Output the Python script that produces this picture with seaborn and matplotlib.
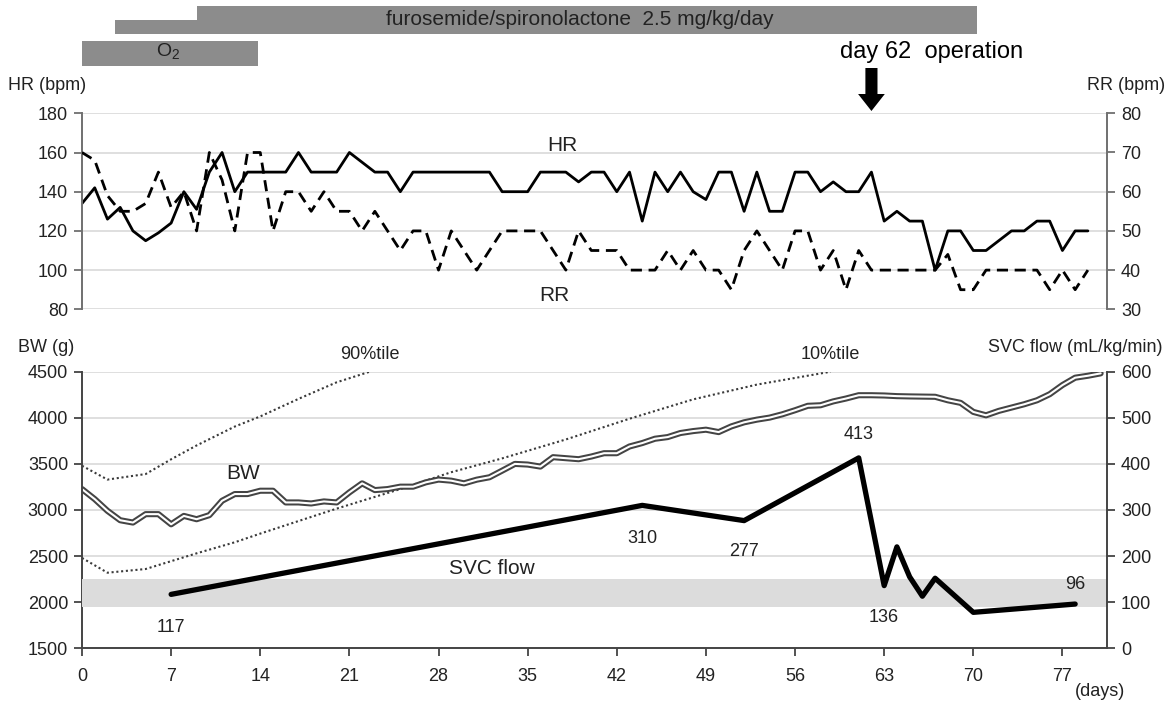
import matplotlib
matplotlib.use("Agg")
import matplotlib.pyplot as plt
from matplotlib import font_manager
from matplotlib.patches import FancyArrow
import seaborn as sns

# ---------------- data ----------------
hr_days = list(range(80))
hr = [134, 142, 126, 132, 120, 115, 119, 124, 140, 131,
      150, 160, 140, 150, 150, 150, 150, 160, 150, 150,
      150, 160, 155, 150, 150, 140, 150, 150, 150, 150,
      150, 150, 150, 140, 140, 140, 150, 150, 150, 145,
      150, 150, 140, 150, 125, 150, 140, 150, 140, 136,
      150, 150, 130, 150, 130, 130, 150, 150, 140, 145,
      140, 140, 150, 125, 130, 125, 125, 100, 120, 120,
      110, 110, 115, 120, 120, 125, 125, 110, 120, 120]
rr = [70, 68, 59, 55, 55, 57, 65, 56, 60, 50,
      70, 63, 50, 70, 70, 50, 60, 60, 55, 60,
      55, 55, 50, 55, 50, 45, 50, 50, 40, 50,
      45, 40, 45, 50, 50, 50, 50, 45, 40, 50,
      45, 45, 45, 40, 40, 40, 45, 40, 45, 40,
      40, 35, 45, 50, 45, 40, 50, 50, 40, 45,
      35, 45, 40, 40, 40, 40, 40, 40, 44, 35,
      35, 40, 40, 40, 40, 40, 35, 40, 35, 40]

bw_days = list(range(81))
bw = [3227, 3118, 2991, 2889, 2864, 2955, 2955, 2845, 2936, 2900,
      2944, 3100, 3173, 3173, 3209, 3209, 3082, 3082, 3071, 3093,
      3082, 3191, 3289, 3216, 3227, 3253, 3253, 3300, 3330, 3318,
      3289, 3329, 3355, 3427, 3500, 3493, 3471, 3573, 3562, 3551,
      3580, 3616, 3616, 3689, 3726, 3773, 3791, 3835, 3856, 3871,
      3845, 3907, 3951, 3980, 4002, 4038, 4082, 4130, 4136, 4178,
      4209, 4245, 4245, 4242, 4235, 4232, 4230, 4228, 4190, 4162,
      4064, 4027, 4075, 4111, 4147, 4190, 4256, 4355, 4435, 4456,
      4482]

p90_days = [0, 2, 5, 7, 9, 12, 14, 17, 20, 22.6]
p90 = [3480, 3330, 3390, 3550, 3700, 3905, 4015, 4205, 4385, 4500]
p10_days = [0, 2, 5, 7, 9, 12, 14, 17, 20, 22, 25, 29, 33, 38, 43, 48, 53, 58.8]
p10 = [2480, 2320, 2360, 2445, 2530, 2650, 2744, 2880, 3015, 3100,
       3227, 3410, 3560, 3765, 3990, 4200, 4360, 4500]

svc_days = [7, 44, 52, 61, 63, 64, 65, 66, 67, 70, 78]
svc = [117, 310, 277, 413, 136, 220, 155, 113, 152, 78, 96]
svc_label_days = [7, 44, 52, 61, 63, 78]
svc_labels = ["117", "310", "277", "413", "136", "96"]
svc_normal_band = [90, 150]

x_ticks = list(range(0, 78, 7))
hr_ticks = [80, 100, 120, 140, 160, 180]
rr_ticks = [30, 40, 50, 60, 70, 80]
bw_ticks = [1500, 2000, 2500, 3000, 3500, 4000, 4500]
svc_ticks = [0, 100, 200, 300, 400, 500, 600]

diuretic_half_start, diuretic_full_start, diuretic_end = 2.6, 9, 70.3
o2_start, o2_end = 0, 13.8
operation_day = 62

# ---------------- style ----------------
sns.set_theme(style="white")
plt.rcParams['font.family'] = ['Liberation Sans', 'DejaVu Sans']
plt.rcParams['mathtext.fontset'] = 'custom'
plt.rcParams['mathtext.rm'] = 'Liberation Sans'
names = {f.name for f in font_manager.fontManager.ttflist}
has_narrow = 'Liberation Sans Narrow' in names
hdr_family = 'Liberation Sans Narrow' if has_narrow else 'Liberation Sans'
hdr_fs = 18.5 if has_narrow else 15.5
op_fs = 20 if has_narrow else 17

TXT = '#222222'
SPINE = '#707070'
GRID = '#d9d9d9'
FS = 13

W, H = 1170, 702
fig = plt.figure(figsize=(W / 100, H / 100), dpi=100)
L = 82 / W
AW = (1107 - 82) / W
XMAX = 80.5

ax_top = fig.add_axes([L, 1 - 309.3 / H, AW, 196 / H])
ax_bw = fig.add_axes([L, 1 - 648.3 / H, AW, 276.6 / H])
ax_hdr = fig.add_axes([L, 1 - 112 / H, AW, 112 / H])

# ---------------- header ----------------
ax_hdr.set_xlim(0, XMAX)
ax_hdr.set_ylim(112, 0)
ax_hdr.axis('off')
bar_c = '#8c8c8c'
ax_hdr.barh(19.5, diuretic_end - diuretic_full_start, left=diuretic_full_start,
            height=28, color=bar_c, lw=0)
ax_hdr.barh(26.5, diuretic_full_start - diuretic_half_start, left=diuretic_half_start,
            height=14, color=bar_c, lw=0)
ax_hdr.barh(53.5, o2_end - o2_start, left=o2_start, height=25, color=bar_c, lw=0)
ax_hdr.text(39.1, 19.5, "furosemide/spironolactone  2.5 mg/kg/day", ha='center',
            va='center', fontsize=hdr_fs if has_narrow else 15, family=hdr_family,
            color=TXT)
ax_hdr.text(6.75, 52, r"O$_\mathregular{2}$", ha='center', va='center',
            fontsize=14, family=hdr_family, color=TXT)
ax_hdr.text(59.5, 52, "day 62  operation", ha='left', va='center',
            fontsize=op_fs, family=hdr_family, color='black')
ax_hdr.add_patch(FancyArrow(operation_day, 68, 0, 43, width=0.95, head_width=2.1,
                            head_length=17, length_includes_head=True,
                            color='black', lw=0))

# ---------------- HR / RR panel ----------------
ax_rr = ax_top.twinx()
ax_rr.set_position(ax_top.get_position())
sns.lineplot(x=hr_days, y=hr, ax=ax_top, color='black', lw=2.0)
sns.lineplot(x=hr_days, y=rr, ax=ax_rr, color='black', lw=2.0,
             linestyle=(0, (4, 2.4)))
ax_top.set_xlim(0, XMAX)
ax_top.set_ylim(80, 180)
ax_rr.set_ylim(30, 80)
ax_top.set_yticks(hr_ticks)
ax_rr.set_yticks(rr_ticks)
ax_top.set_xticks([])
ax_top.yaxis.grid(True, color=GRID, lw=1.2)
ax_top.set_axisbelow(True)
for a in (ax_top, ax_rr):
    a.set_xlabel('')
    a.set_ylabel('')
    for s in ('top', 'bottom'):
        a.spines[s].set_visible(False)
ax_top.spines['right'].set_visible(False)
ax_rr.spines['left'].set_visible(False)
ax_top.spines['left'].set_color(SPINE)
ax_rr.spines['right'].set_color(SPINE)
ax_top.spines['left'].set_linewidth(1.4)
ax_rr.spines['right'].set_linewidth(1.4)
ax_top.tick_params(axis='y', left=True, direction='out', length=6, width=1.3,
                   color=SPINE, labelsize=FS, labelcolor=TXT, pad=4)
ax_rr.tick_params(axis='y', right=True, direction='out', length=6, width=1.3,
                  color=SPINE, labelsize=FS, labelcolor=TXT, pad=4)
ax_top.text(37.7, 163.5, "HR", ha='center', va='center', fontsize=15, color=TXT)
ax_top.text(37.1, 86.8, "RR", ha='center', va='center', fontsize=15, color=TXT)

# ---------------- BW / SVC panel ----------------
ax_svc = ax_bw.twinx()
ax_svc.set_position(ax_bw.get_position())
sns.lineplot(x=p90_days, y=p90, ax=ax_bw, color='#3a3a3a', lw=1.5,
             linestyle=(0, (1, 1.3)))
sns.lineplot(x=p10_days, y=p10, ax=ax_bw, color='#3a3a3a', lw=1.5,
             linestyle=(0, (1, 1.3)))
sns.lineplot(x=bw_days, y=bw, ax=ax_bw, color='#444444', lw=4.4)
sns.lineplot(x=bw_days, y=bw, ax=ax_bw, color='white', lw=1.5)
ax_svc.axhspan(svc_normal_band[0], svc_normal_band[1], color='#dcdcdc', lw=0, zorder=0)
sns.lineplot(x=svc_days, y=svc, ax=ax_svc, color='black', lw=3.8)

ax_bw.set_xlim(0, XMAX)
ax_bw.set_ylim(1500, 4500)
ax_svc.set_ylim(0, 600)
ax_bw.set_xticks(x_ticks)
ax_bw.set_yticks(bw_ticks)
ax_svc.set_yticks(svc_ticks)
ax_bw.yaxis.grid(True, color=GRID, lw=1.2)
ax_bw.set_axisbelow(True)
for a in (ax_bw, ax_svc):
    a.set_xlabel('')
    a.set_ylabel('')
    a.spines['top'].set_visible(False)
ax_bw.spines['right'].set_visible(False)
ax_svc.spines['left'].set_visible(False)
ax_svc.spines['bottom'].set_visible(False)
for s in ('left', 'bottom'):
    ax_bw.spines[s].set_color('#444444')
    ax_bw.spines[s].set_linewidth(1.4)
ax_svc.spines['right'].set_color('#444444')
ax_svc.spines['right'].set_linewidth(1.4)
ax_bw.tick_params(axis='both', left=True, bottom=True, direction='out', length=6,
                  width=1.3, color='#444444', labelsize=FS, labelcolor=TXT, pad=4)
ax_bw.tick_params(axis='x', pad=8)
ax_svc.tick_params(axis='y', right=True, direction='out', length=6, width=1.3,
                   color='#444444', labelsize=FS, labelcolor=TXT, pad=4)

label_offsets = [-24, -24, -22, 17, -23, 14]
for d, lab, off in zip(svc_label_days, svc_labels, label_offsets):
    v = svc[svc_days.index(d)]
    ax_svc.annotate(lab, (d, v), xytext=(0, off), textcoords='offset points',
                    ha='center', va='center', fontsize=FS, color=TXT)

ax_bw.text(22.6, 4690, "90%tile", ha='center', va='center', fontsize=FS,
           color=TXT, clip_on=False)
ax_bw.text(58.8, 4690, "10%tile", ha='center', va='center', fontsize=FS,
           color=TXT, clip_on=False)
ax_bw.text(12.65, 3400, "BW", ha='center', va='center', fontsize=15, color=TXT)
ax_bw.text(32.2, 2370, "SVC flow", ha='center', va='center', fontsize=15, color=TXT)

# axis titles
fig.text(8 / W, 1 - 86 / H, "HR (bpm)", ha='left', va='center', fontsize=FS, color=TXT)
fig.text(1165 / W, 1 - 86 / H, "RR (bpm)", ha='right', va='center', fontsize=FS, color=TXT)
fig.text(18 / W, 1 - 348 / H, "BW (g)", ha='left', va='center', fontsize=FS, color=TXT)
fig.text(1162 / W, 1 - 348 / H, "SVC flow (mL/kg/min)", ha='right', va='center',
         fontsize=FS, color=TXT)
fig.text(1075 / W, 1 - 691 / H, "(days)", ha='left', va='center', fontsize=FS, color=TXT)

fig.savefig("out.png", dpi=100)
